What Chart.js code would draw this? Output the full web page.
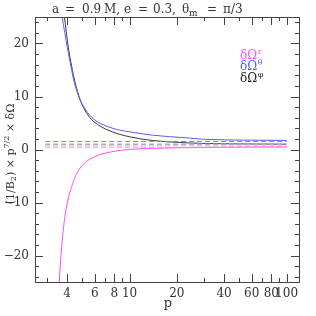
<!DOCTYPE html>
<html>
<head>
<meta charset="utf-8">
<script src="https://cdn.jsdelivr.net/npm/chart.js@4/dist/chart.umd.min.js"></script>
<style>
  html, body { margin: 0; padding: 0; background: #fff; }
  #wrap { width: 316px; height: 316px; }
</style>
</head>
<body>
<div id="wrap"><canvas id="chart" width="316" height="316"></canvas></div>
<script>
// values
const pRadial = [3.56, 3.68, 3.87, 4.34, 4.9, 5.97, 7.64, 10, 14, 20, 40, 100];
const dOmegaR = [-25.2, -19.1, -12.8, -6.45, -3.3, -1.4, -0.45, 0.0, 0.22, 0.32, 0.44, 0.5];

const pTheta = [3.72, 4.02, 4.44, 4.85, 5.2, 5.6, 6.27, 7.82, 8.63, 10, 14, 23, 29, 56, 100];
const dOmegaTheta = [25, 19.2, 12.8, 9.35, 7.7, 6.4, 5.2, 4.0, 3.66, 3.34, 2.7, 2.2, 1.95, 1.76, 1.72];

const pPhi = [3.85, 4.08, 4.49, 4.85, 5.2, 5.6, 6.27, 7.82, 10, 14, 20, 29, 50, 100];
const dOmegaPhi = [25, 19.2, 12.8, 9.35, 7.4, 6.0, 4.7, 3.3, 2.4, 1.7, 1.35, 1.15, 1.05, 1.0];

// asymptotic (large p) levels, dashed
const pLimit = [2.9, 100];
const limitTheta = [1.52, 1.52];
const limitPhi = [0.95, 0.95];
const limitR = [0.44, 0.44];

const xMajorTicks = [4, 6, 8, 10, 20, 40, 60, 80, 100];
const xMinorTicks = [3, 5, 7, 9, 30, 50, 70, 90];
const yMajorTicks = [-20, -10, 0, 10, 20];
const yMinorTicks = [-24, -22, -18, -16, -14, -12, -8, -6, -4, -2, 2, 4, 6, 8, 12, 14, 16, 18, 22, 24];

const magenta = '#ff4cff';
const blue = '#5a5aff';
const ink = '#333333';
const serif = '"DejaVu Serif", serif';

function pts(xs, ys) {
    return xs.map((x, i) => ({ x: x, y: ys[i] }));
}

function dashed(xs, ys, color, width) {
    return {
        data: pts(xs, ys), borderColor: color, borderWidth: width,
        borderDash: [5, 3], pointRadius: 0, fill: false,
    };
}

function curve(xs, ys, color) {
    return {
        data: pts(xs, ys), borderColor: color, borderWidth: 1,
        pointRadius: 0, fill: false, cubicInterpolationMode: 'monotone',
    };
}

const framePlugin = {
    id: 'frame',
    afterDraw(chart) {
        const ctx = chart.ctx;
        const a = chart.chartArea;
        const xs = chart.scales.x;
        const ys = chart.scales.y;
        ctx.save();
        ctx.strokeStyle = '#444';
        ctx.lineWidth = 1;
        ctx.strokeRect(a.left + 0.5, a.top + 0.5, a.right - a.left, a.bottom - a.top);

        ctx.beginPath();
        const xt = (v, len) => {
            const px = Math.round(xs.getPixelForValue(v)) + 0.5;
            ctx.moveTo(px, a.bottom); ctx.lineTo(px, a.bottom - len);
            ctx.moveTo(px, a.top); ctx.lineTo(px, a.top + len);
        };
        const yt = (v, len) => {
            const py = Math.round(ys.getPixelForValue(v)) + 0.5;
            ctx.moveTo(a.left, py); ctx.lineTo(a.left + len, py);
            ctx.moveTo(a.right, py); ctx.lineTo(a.right - len, py);
        };
        xMajorTicks.forEach((v) => xt(v, 8));
        xMinorTicks.forEach((v) => xt(v, 4));
        yMajorTicks.forEach((v) => yt(v, 8));
        yMinorTicks.forEach((v) => yt(v, 4));
        ctx.stroke();

        ctx.fillStyle = ink;
        ctx.font = '12px ' + serif;
        ctx.textBaseline = 'middle';
        ctx.textAlign = 'center';
        xMajorTicks.forEach((v) => ctx.fillText(String(v), xs.getPixelForValue(v), a.bottom + 12));
        ctx.textAlign = 'right';
        yMajorTicks.forEach((v) => {
            const s = v < 0 ? '\u2212' + Math.abs(v) : String(v);
            ctx.fillText(s, a.left - 6, ys.getPixelForValue(v));
        });

        // x axis title
        ctx.textAlign = 'center';
        ctx.font = '13px ' + serif;
        ctx.fillText('p', (a.left + a.right) / 2 + 1, a.bottom + 22);

        // title
        ctx.font = '12px ' + serif;
        ctx.textAlign = 'left';
        const ty = 10;
        const parts = [['a', 52], ['=', 65], ['0.9', 82], ['M,', 104], ['e', 124], ['=', 138], ['0.3,', 153], ['\u03B8', 182], ['=', 207], ['\u03C0/3', 223]];
        parts.forEach(([t, x]) => ctx.fillText(t, x, ty));
        ctx.font = '9px ' + serif;
        ctx.fillText('m', 189, ty + 4);

        // y axis title (rotated)
        ctx.save();
        ctx.translate(11, 154);
        ctx.rotate(-Math.PI / 2);
        const segs = [
            ['(1/B', 11, 0], ['2', 8, 3], [') \u00D7 p', 11, 0], ['7/2', 8, -4],
            [' \u00D7 \u03B4\u03A9', 11, 0],
        ];
        let total = 0;
        segs.forEach(([t, f]) => { ctx.font = f + 'px ' + serif; total += ctx.measureText(t).width; });
        let cx = -total / 2;
        segs.forEach(([t, f, dy]) => {
            ctx.font = f + 'px ' + serif;
            ctx.fillText(t, cx, dy);
            cx += ctx.measureText(t).width;
        });
        ctx.restore();

        // legend
        const legend = [['r', magenta, 56], ['\u03B8', blue, 67], ['\u03C6', '#222', 79]];
        legend.forEach(([sup, color, y]) => {
            ctx.fillStyle = color;
            ctx.font = '12px ' + serif;
            ctx.fillText('\u03B4\u03A9', 240, y);
            const w = ctx.measureText('\u03B4\u03A9').width;
            ctx.font = '8px ' + serif;
            ctx.fillText(sup, 240 + w + 0.5, y - 4);
        });
        ctx.restore();
    },
};

new Chart(document.getElementById('chart'), {
    type: 'line',
    data: {
        datasets: [
            dashed(pLimit, limitTheta, '#7a7aff', 1),
            dashed(pLimit, limitPhi, '#b0b0b0', 2),
            dashed(pLimit, limitR, '#ff7aff', 1),
            curve(pRadial, dOmegaR, magenta),
            curve(pTheta, dOmegaTheta, blue),
            curve(pPhi, dOmegaPhi, '#3a3a3a'),
        ],
    },
    options: {
        responsive: false,
        animation: false,
        events: [],
        layout: { padding: { left: 35, right: 17, top: 17, bottom: 34 } },
        plugins: { legend: { display: false }, tooltip: { enabled: false } },
        scales: {
            x: { type: 'logarithmic', min: 2.5, max: 120, display: false },
            y: { type: 'linear', min: -25, max: 25, display: false },
        },
    },
    plugins: [framePlugin],
});
</script>
</body>
</html>
